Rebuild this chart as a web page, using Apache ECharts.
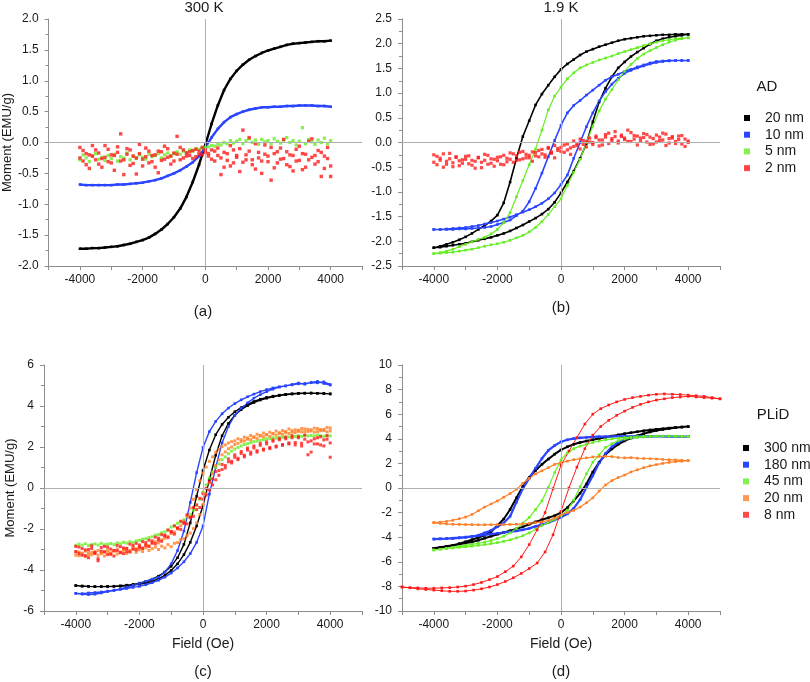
<!DOCTYPE html>
<html><head><meta charset="utf-8">
<script src="https://cdn.jsdelivr.net/npm/echarts@6/dist/echarts.min.js"></script>
<style>html,body{margin:0;padding:0;background:#fff}#c{width:810px;height:682px}</style>
</head><body><div id="c"></div>
<script>
// ---------- field sweeps (Oe) ----------
const F41 = [-4000,-3800,-3600,-3400,-3200,-3000,-2800,-2600,-2400,-2200,-2000,-1800,-1600,-1400,-1200,-1000,-800,-600,-400,-200,0,200,400,600,800,1000,1200,1400,1600,1800,2000,2200,2400,2600,2800,3000,3200,3400,3600,3800,4000];
const F81 = [-4000,-3900,-3800,-3700,-3600,-3500,-3400,-3300,-3200,-3100,-3000,-2900,-2800,-2700,-2600,-2500,-2400,-2300,-2200,-2100,-2000,-1900,-1800,-1700,-1600,-1500,-1400,-1300,-1200,-1100,-1000,-900,-800,-700,-600,-500,-400,-300,-200,-100,0,100,200,300,400,500,600,700,800,900,1000,1100,1200,1300,1400,1500,1600,1700,1800,1900,2000,2100,2200,2300,2400,2500,2600,2700,2800,2900,3000,3100,3200,3300,3400,3500,3600,3700,3800,3900,4000];
const F41D = [-5000,-4750,-4500,-4250,-4000,-3750,-3500,-3250,-3000,-2750,-2500,-2250,-2000,-1750,-1500,-1250,-1000,-750,-500,-250,0,250,500,750,1000,1250,1500,1750,2000,2250,2500,2750,3000,3250,3500,3750,4000,4250,4500,4750,5000];

// ---------- (a) AD, 300 K ----------
const a20 = [-1.72,-1.72,-1.71,-1.71,-1.70,-1.69,-1.68,-1.66,-1.64,-1.61,-1.58,-1.54,-1.48,-1.41,-1.32,-1.21,-1.07,-0.88,-0.64,-0.36,-0.04,0.30,0.60,0.85,1.03,1.16,1.26,1.34,1.40,1.45,1.49,1.52,1.55,1.58,1.60,1.61,1.62,1.63,1.64,1.64,1.65];
const a10 = [-0.68,-0.69,-0.69,-0.69,-0.69,-0.69,-0.68,-0.68,-0.67,-0.66,-0.65,-0.63,-0.61,-0.58,-0.54,-0.50,-0.45,-0.39,-0.32,-0.22,-0.08,0.08,0.22,0.33,0.41,0.46,0.50,0.53,0.55,0.57,0.57,0.58,0.58,0.59,0.59,0.60,0.60,0.60,0.59,0.59,0.58];
const a5 = [-0.28,-0.20,-0.25,-0.31,-0.22,-0.18,-0.27,-0.24,-0.29,-0.21,-0.26,-0.19,-0.30,-0.23,-0.25,-0.17,-0.28,-0.22,-0.26,-0.20,-0.24,-0.27,-0.19,-0.23,-0.21,-0.18,-0.25,-0.20,-0.17,-0.22,-0.18,-0.15,-0.19,-0.14,-0.16,-0.12,-0.14,-0.10,-0.11,-0.09,-0.08,-0.07,-0.05,-0.06,-0.03,-0.04,0.00,-0.02,0.03,-0.01,0.02,0.05,-0.02,0.03,0.06,0.00,0.04,-0.03,0.05,0.01,0.03,-0.02,0.06,0.02,-0.01,0.04,0.08,0.00,0.03,-0.04,0.02,0.24,-0.02,0.05,0.01,-0.03,0.04,0.00,0.07,-0.02,0.03];
const a2up = [-0.08,-0.30,-0.18,-0.42,-0.22,-0.12,-0.35,-0.26,-0.05,-0.31,-0.20,-0.45,-0.16,0.14,-0.28,-0.10,-0.37,-0.22,-0.51,-0.18,-0.27,-0.09,-0.33,-0.21,-0.40,-0.14,-0.29,-0.06,-0.24,-0.35,-0.17,0.10,-0.28,-0.12,-0.22,-0.15,-0.26,-0.11,-0.19,-0.08,-0.16,-0.22,-0.12,-0.30,-0.09,-0.25,-0.40,-0.18,-0.05,-0.33,-0.21,-0.47,0.20,-0.28,-0.14,-0.36,-0.02,-0.25,-0.50,-0.19,-0.31,-0.08,-0.41,-0.15,-0.27,0.05,-0.36,-0.20,-0.46,-0.11,-0.29,-0.18,-0.40,0.02,-0.24,-0.35,-0.13,-0.55,-0.22,-0.08,-0.38];
const a2dn = [-0.25,-0.13,-0.36,-0.20,-0.05,-0.28,-0.17,-0.40,-0.24,-0.11,-0.33,-0.21,-0.07,-0.30,-0.52,-0.19,-0.12,-0.34,-0.25,-0.03,-0.38,-0.23,-0.14,-0.31,-0.20,-0.49,-0.15,-0.27,-0.10,-0.22,-0.30,-0.19,-0.08,-0.25,-0.17,-0.21,-0.13,-0.23,-0.14,-0.20,-0.12,-0.18,-0.27,-0.14,-0.21,-0.52,-0.16,-0.29,-0.38,-0.12,-0.24,-0.10,-0.32,-0.20,0.08,-0.28,-0.43,-0.16,-0.30,-0.04,-0.22,-0.61,-0.18,-0.33,-0.09,-0.26,-0.15,-0.39,-0.21,-0.30,-0.06,-0.44,-0.19,-0.28,0.06,-0.21,-0.31,-0.16,-0.42,-0.26,-0.55];

// ---------- (b) AD, 1.9 K (upper = descending branch, lower = ascending branch) ----------
const b20upper = [-2.13,-2.10,-2.06,-2.02,-1.97,-1.91,-1.84,-1.76,-1.68,-1.59,-1.47,-1.22,-0.80,-0.32,0.12,0.44,0.76,0.98,1.16,1.33,1.48,1.59,1.68,1.77,1.84,1.89,1.94,1.98,2.02,2.06,2.09,2.11,2.13,2.15,2.16,2.17,2.18,2.18,2.19,2.19,2.19];
const b20lower = [-2.13,-2.12,-2.10,-2.08,-2.06,-2.04,-2.01,-1.98,-1.95,-1.92,-1.88,-1.84,-1.79,-1.73,-1.67,-1.60,-1.53,-1.45,-1.35,-1.21,-1.02,-0.80,-0.58,-0.32,-0.02,0.42,0.82,1.10,1.33,1.51,1.63,1.74,1.83,1.91,1.99,2.06,2.10,2.13,2.15,2.17,2.19];
const b10upper = [-1.76,-1.76,-1.76,-1.76,-1.75,-1.75,-1.74,-1.73,-1.72,-1.70,-1.66,-1.62,-1.57,-1.48,-1.39,-1.20,-0.93,-0.62,-0.29,0.04,0.35,0.60,0.75,0.85,0.96,1.06,1.16,1.26,1.33,1.38,1.44,1.48,1.53,1.57,1.61,1.64,1.65,1.66,1.66,1.66,1.66];
const b10lower = [-1.76,-1.76,-1.75,-1.74,-1.73,-1.72,-1.70,-1.68,-1.65,-1.62,-1.59,-1.55,-1.51,-1.46,-1.41,-1.36,-1.30,-1.23,-1.14,-1.02,-0.85,-0.66,-0.32,0.00,0.32,0.60,0.84,1.03,1.18,1.30,1.40,1.46,1.51,1.55,1.59,1.62,1.64,1.65,1.66,1.66,1.66];
const b5upper = [-2.25,-2.23,-2.20,-2.16,-2.11,-2.06,-2.01,-1.96,-1.92,-1.85,-1.76,-1.62,-1.42,-1.10,-0.77,-0.45,-0.13,0.25,0.66,0.94,1.12,1.29,1.41,1.51,1.57,1.62,1.67,1.71,1.75,1.80,1.84,1.88,1.92,1.96,2.00,2.03,2.06,2.08,2.10,2.11,2.12];
const b5lower = [-2.25,-2.24,-2.23,-2.22,-2.20,-2.18,-2.16,-2.13,-2.10,-2.07,-2.05,-2.02,-1.98,-1.93,-1.88,-1.81,-1.72,-1.60,-1.46,-1.30,-1.14,-0.87,-0.60,-0.34,0.00,0.33,0.64,0.88,1.07,1.27,1.44,1.58,1.70,1.79,1.86,1.92,1.98,2.03,2.07,2.10,2.12];
const b2up = [-0.25,-0.45,-0.32,-0.50,-0.38,-0.22,-0.41,-0.30,-0.47,-0.35,-0.28,-0.43,-0.36,-0.52,-0.31,-0.40,-0.24,-0.44,-0.33,-0.48,-0.37,-0.29,-0.45,-0.32,-0.21,-0.40,-0.27,-0.35,-0.18,-0.31,-0.26,-0.38,-0.20,-0.29,-0.14,-0.25,-0.10,-0.22,-0.31,-0.12,-0.18,-0.05,-0.15,-0.24,-0.08,-0.02,-0.13,0.04,-0.09,0.01,-0.04,0.10,-0.07,0.05,0.16,-0.02,0.08,0.22,0.03,0.12,0.06,0.25,0.02,0.14,-0.05,0.09,0.18,0.01,0.11,-0.03,0.15,0.04,0.19,-0.06,0.08,0.12,-0.02,0.06,0.14,-0.08,0.03];
const b2dn = [-0.40,-0.28,-0.36,-0.23,-0.44,-0.33,-0.49,-0.29,-0.37,-0.42,-0.34,-0.27,-0.46,-0.38,-0.30,-0.51,-0.36,-0.26,-0.42,-0.34,-0.30,-0.44,-0.26,-0.39,-0.34,-0.23,-0.36,-0.20,-0.33,-0.24,-0.31,-0.19,-0.27,-0.16,-0.23,-0.30,-0.12,-0.19,-0.06,-0.16,-0.10,-0.20,-0.03,-0.11,0.03,-0.06,0.07,-0.04,0.02,0.09,0.00,0.13,0.05,-0.05,0.11,0.19,0.04,0.12,-0.01,0.15,0.09,0.02,0.20,0.07,0.13,0.03,0.10,0.16,-0.04,0.08,0.01,0.11,0.05,0.17,-0.01,0.09,0.02,0.13,-0.03,0.07,0.00];

// ---------- (c) PLiD, 300 K ----------
const c300upper = [-4.76,-4.78,-4.80,-4.81,-4.81,-4.80,-4.79,-4.77,-4.74,-4.70,-4.64,-4.56,-4.45,-4.30,-4.10,-3.82,-3.40,-2.75,-1.70,-0.40,0.85,1.85,2.60,3.10,3.45,3.72,3.92,4.08,4.22,4.33,4.42,4.48,4.53,4.57,4.60,4.62,4.63,4.63,4.62,4.61,4.59];
const c300lower = [-4.76,-4.79,-4.80,-4.81,-4.81,-4.81,-4.80,-4.79,-4.77,-4.74,-4.70,-4.64,-4.55,-4.43,-4.26,-4.02,-3.70,-3.25,-2.65,-1.85,-0.85,0.40,1.60,2.55,3.15,3.55,3.82,4.02,4.17,4.29,4.38,4.45,4.51,4.55,4.58,4.61,4.62,4.63,4.62,4.61,4.59];
const c180upper = [-5.14,-5.15,-5.12,-5.10,-5.07,-5.03,-4.98,-4.92,-4.84,-4.75,-4.65,-4.55,-4.45,-4.35,-4.10,-3.70,-3.05,-2.10,-0.70,0.75,1.98,2.75,3.25,3.62,3.90,4.12,4.30,4.45,4.58,4.70,4.80,4.88,4.94,4.98,5.05,5.12,5.06,5.15,5.20,5.10,5.02];
const c180lower = [-5.14,-5.18,-5.20,-5.18,-5.12,-5.05,-5.00,-4.95,-4.90,-4.85,-4.80,-4.72,-4.62,-4.50,-4.35,-4.15,-3.90,-3.60,-3.20,-2.65,-1.85,-0.30,1.00,2.20,3.00,3.55,3.88,4.15,4.38,4.55,4.70,4.82,4.92,4.98,5.03,5.08,5.10,5.14,5.13,5.18,5.05];
const c45 = [-2.80,-2.74,-2.79,-2.72,-2.81,-2.76,-2.73,-2.78,-2.70,-2.77,-2.74,-2.71,-2.76,-2.68,-2.72,-2.65,-2.69,-2.62,-2.66,-2.58,-2.55,-2.50,-2.47,-2.42,-2.38,-2.30,-2.27,-2.18,-2.14,-2.05,-1.90,-1.84,-1.72,-1.65,-1.55,-1.40,-1.28,-1.08,-0.85,-0.55,-0.20,0.15,0.48,0.78,1.00,1.18,1.38,1.52,1.68,1.80,1.90,1.98,2.05,2.12,2.16,2.22,2.26,2.29,2.33,2.36,2.40,2.41,2.45,2.43,2.48,2.47,2.50,2.49,2.53,2.51,2.55,2.52,2.57,2.54,2.56,2.53,2.58,2.55,2.52,2.56,2.54];
const c20upper = [-3.28,-3.12,-3.22,-3.08,-3.25,-3.14,-3.20,-3.05,-3.18,-3.10,-3.02,-3.16,-3.06,-2.98,-3.12,-3.00,-2.94,-3.05,-2.88,-2.96,-2.86,-2.92,-2.78,-2.82,-2.70,-2.62,-2.68,-2.52,-2.45,-2.36,-2.22,-2.15,-2.00,-1.84,-1.62,-1.38,-0.98,-0.55,-0.08,0.35,0.72,1.02,1.30,1.52,1.74,1.88,2.02,2.10,2.20,2.26,2.30,2.40,2.36,2.48,2.44,2.56,2.50,2.62,2.55,2.68,2.60,2.72,2.64,2.78,2.66,2.80,2.70,2.88,2.72,2.84,2.76,2.90,2.74,2.86,2.78,2.92,2.75,2.85,2.80,2.95,2.78];
const c20lower = [-3.12,-3.30,-3.18,-3.35,-3.15,-3.26,-3.10,-3.28,-3.20,-3.32,-3.14,-3.24,-3.08,-3.22,-3.16,-3.04,-3.20,-3.10,-2.98,-3.14,-3.02,-3.10,-2.92,-3.05,-2.96,-2.88,-3.00,-2.84,-2.92,-2.76,-2.86,-2.70,-2.66,-2.52,-2.48,-2.32,-2.20,-1.98,-1.70,-1.30,-0.80,-0.28,0.25,0.68,1.10,1.38,1.62,1.76,1.92,2.00,2.12,2.18,2.26,2.30,2.38,2.36,2.46,2.42,2.55,2.50,2.60,2.52,2.66,2.58,2.70,2.62,2.76,2.66,2.80,2.70,2.82,2.74,2.88,2.76,2.84,2.72,2.90,2.80,2.86,2.74,2.92];
const c8upper = [-2.85,-3.20,-2.95,-3.30,-3.00,-2.82,-3.18,-3.45,-2.90,-3.12,-2.88,-3.22,-3.05,-2.80,-3.15,-2.92,-3.10,-2.74,-2.98,-2.70,-2.90,-2.62,-2.80,-2.55,-2.68,-2.40,-2.55,-2.28,-2.35,-2.05,-2.12,-1.85,-1.95,-1.62,-1.70,-1.30,-1.42,-0.95,-0.82,-0.50,-0.28,-0.02,0.30,0.45,0.80,0.85,1.15,1.10,1.42,1.30,1.62,1.45,1.78,1.60,1.95,1.75,2.05,1.82,2.18,1.90,2.25,1.98,2.35,2.05,2.42,2.12,2.48,2.20,2.55,2.10,2.45,2.18,2.58,2.25,1.75,2.40,2.15,2.50,2.05,2.38,1.50];
const c8lower = [-3.10,-2.88,-3.28,-3.02,-3.40,-2.95,-3.15,-3.55,-3.08,-2.85,-3.25,-2.98,-3.32,-3.06,-2.86,-3.20,-2.95,-3.12,-2.80,-3.02,-2.78,-2.95,-2.66,-2.85,-2.58,-2.72,-2.45,-2.60,-2.30,-2.42,-2.15,-2.25,-1.95,-2.02,-1.72,-1.75,-1.45,-1.38,-1.05,-0.95,-0.55,-0.35,-0.10,0.15,0.40,0.62,0.90,0.98,1.28,1.22,1.50,1.38,1.68,1.52,1.85,1.65,1.95,1.75,2.08,1.85,2.15,1.92,2.28,2.00,2.35,2.08,2.40,2.15,2.45,2.22,2.50,2.05,2.38,1.62,2.30,2.15,2.45,2.10,2.35,2.55,2.20];

// ---------- (d) PLiD, 1.9 K ----------
const d300upper = [-4.90,-4.84,-4.76,-4.66,-4.52,-4.37,-4.20,-4.02,-3.85,-3.55,-3.05,-2.52,-1.75,-0.80,0.12,0.86,1.42,1.92,2.35,2.75,3.10,3.35,3.55,3.70,3.82,3.92,4.02,4.12,4.22,4.32,4.42,4.50,4.58,4.65,4.72,4.77,4.82,4.87,4.92,4.96,4.99];
const d300lower = [-4.90,-4.82,-4.74,-4.66,-4.57,-4.48,-4.39,-4.25,-4.08,-3.92,-3.76,-3.62,-3.47,-3.32,-3.16,-2.95,-2.75,-2.58,-2.42,-2.25,-2.00,-1.60,-1.05,-0.43,0.32,1.30,2.10,2.72,3.18,3.55,3.83,4.05,4.25,4.42,4.56,4.67,4.76,4.84,4.90,4.95,4.99];
const d180upper = [-4.15,-4.14,-4.12,-4.10,-4.06,-4.01,-3.94,-3.84,-3.65,-3.45,-3.15,-2.85,-2.30,-1.15,-0.05,0.80,1.60,2.40,3.05,3.45,3.75,3.92,4.02,4.08,4.12,4.15,4.17,4.18,4.19,4.20,4.20,4.20,4.20,4.20,4.20,4.20,4.20,4.19,4.19,4.18,4.17];
const d180lower = [-4.15,-4.13,-4.11,-4.08,-4.04,-3.99,-3.94,-3.88,-3.82,-3.75,-3.68,-3.62,-3.56,-3.49,-3.40,-3.28,-3.12,-2.98,-2.82,-2.60,-2.38,-2.10,-1.65,-0.95,0.05,1.00,2.05,2.80,3.35,3.72,3.98,4.10,4.15,4.17,4.18,4.19,4.19,4.18,4.18,4.17,4.17];
const d45upper = [-5.04,-4.98,-4.90,-4.82,-4.74,-4.66,-4.58,-4.50,-4.40,-4.28,-4.12,-3.92,-3.65,-3.30,-2.85,-2.40,-1.75,-1.05,0.05,1.25,2.30,2.85,3.20,3.40,3.55,3.70,3.82,3.92,4.00,4.06,4.10,4.14,4.17,4.19,4.21,4.22,4.22,4.22,4.21,4.20,4.18];
const d45lower = [-5.04,-4.98,-4.93,-4.88,-4.83,-4.78,-4.72,-4.66,-4.60,-4.52,-4.44,-4.34,-4.22,-4.06,-3.88,-3.65,-3.35,-3.05,-2.80,-2.55,-2.25,-1.80,-1.00,0.10,1.15,2.10,2.70,3.30,3.60,3.85,3.98,4.06,4.11,4.15,4.18,4.20,4.21,4.21,4.21,4.20,4.18];
const d20upper = [-2.82,-2.78,-2.72,-2.62,-2.50,-2.36,-2.15,-1.85,-1.55,-1.30,-1.05,-0.75,-0.45,-0.10,0.38,0.78,1.15,1.40,1.65,1.92,2.05,2.18,2.30,2.38,2.45,2.52,2.56,2.58,2.55,2.48,2.45,2.47,2.42,2.40,2.38,2.36,2.32,2.30,2.28,2.25,2.22];
const d20lower = [-2.82,-2.88,-2.92,-2.95,-2.96,-2.97,-2.98,-2.99,-2.99,-2.98,-2.98,-2.97,-2.96,-2.95,-2.92,-2.88,-2.82,-2.75,-2.65,-2.45,-2.20,-2.00,-1.82,-1.55,-1.20,-0.80,-0.25,0.25,0.60,0.85,1.05,1.30,1.48,1.65,1.80,1.90,2.00,2.08,2.14,2.18,2.22];
const d8upper = [-8.05,-8.10,-8.12,-8.15,-8.15,-8.12,-8.10,-8.05,-7.98,-7.85,-7.68,-7.45,-7.20,-6.80,-6.35,-5.60,-4.60,-3.40,-2.00,-0.05,1.85,3.00,4.10,5.20,6.00,6.45,6.75,7.00,7.20,7.35,7.45,7.55,7.62,7.65,7.62,7.60,7.55,7.50,7.45,7.35,7.25];
const d8lower = [-8.05,-8.12,-8.20,-8.25,-8.30,-8.35,-8.40,-8.40,-8.38,-8.30,-8.20,-8.05,-7.85,-7.60,-7.30,-6.95,-6.55,-6.10,-5.20,-3.80,-1.90,0.00,1.70,3.20,4.30,5.00,5.50,5.90,6.25,6.55,6.80,7.00,7.15,7.25,7.35,7.40,7.45,7.40,7.35,7.30,7.25];

// ---------- labels ----------
const adNames = ['20 nm','10 nm','5 nm','2 nm'];
const plidNames = ['300 nm','180 nm','45 nm','20 nm','8 nm'];
const adColors = ['#000000','#2a45ff','#66ee22','#ff1a1a'];
const plidColors = ['#000000','#2a45ff','#66ee22','#ff7f27','#ff1a1a'];

// ---------- build ----------
function pairs(xs, ys){ return xs.map((x,i)=>[x, ys[i]]); }
function loop(xs, upper, lower){ return pairs(xs, upper).reverse().concat(pairs(xs, lower)); }

const FONT = 'Liberation Sans, Arial, sans-serif';
const AX = '#8c8c8c';
const TXT = '#1a1a1a';
const grids = [
  {left:44, top:19, width:318, height:247},
  {left:402, top:19, width:318, height:247},
  {left:44, top:365, width:318, height:246},
  {left:402, top:365, width:318, height:246}
];
function xAx(i, minV, maxV, named){
  return {type:'value', gridIndex:i, min:minV, max:maxV, interval:1000,
    axisLine:{show:true, onZero:false, lineStyle:{color:AX}},
    axisTick:{show:true, length:4, lineStyle:{color:AX}},
    splitLine:{show:false},
    axisLabel:{color:TXT, fontSize:12, fontFamily:FONT, margin:8,
      formatter:v => (v % 2000 === 0 && Math.abs(v) < 5000) ? String(v) : ''},
    name: named ? 'Field (Oe)' : '', nameLocation:'middle', nameGap:26,
    nameTextStyle:{color:TXT, fontSize:14, fontFamily:FONT}};
}
function yAx(i, minV, maxV, iv, dec, named){
  return {type:'value', gridIndex:i, min:minV, max:maxV, interval:iv,
    axisLine:{show:true, onZero:false, lineStyle:{color:AX}},
    axisTick:{show:true, length:4, lineStyle:{color:AX}},
    minorTick:{show:true, splitNumber:2, length:3, lineStyle:{color:AX}},
    splitLine:{show:false},
    axisLabel:{color:TXT, fontSize:12, fontFamily:FONT, margin:10,
      formatter:v => v.toFixed(dec)},
    name: named ? 'Moment (EMU/g)' : '', nameLocation:'middle', nameGap:27,
    nameTextStyle:{color:TXT, fontSize:13, fontFamily:FONT}};
}
function zeroLines(i){
  return {type:'line', xAxisIndex:i, yAxisIndex:i, data:[], silent:true, z:1,
    markLine:{silent:true, symbol:'none', label:{show:false}, animation:false,
      lineStyle:{color:'#b0b0b0', width:1, type:'solid'},
      data:[{xAxis:0},{yAxis:0}]}};
}
function lineS(name, i, color, data, w){
  return {name, type:'line', xAxisIndex:i, yAxisIndex:i, data, z:3,
    symbol:'rect', symbolSize:2.6, showSymbol:true, showAllSymbol:true,
    itemStyle:{color}, lineStyle:{color, width:w}, emphasis:{disabled:true}};
}
function dotS(name, i, color, data, sz){
  return {name, type:'scatter', xAxisIndex:i, yAxisIndex:i, data, z:4,
    symbol:'rect', symbolSize:sz || 3, itemStyle:{color}, emphasis:{disabled:true}};
}

const series = [
  zeroLines(0), zeroLines(1), zeroLines(2), zeroLines(3),
  // (a)
  lineS('AD '+adNames[0], 0, adColors[0], pairs(F41, a20), 2.4),
  lineS('AD '+adNames[1], 0, adColors[1], pairs(F41, a10), 2.4),
  dotS('AD '+adNames[2], 0, adColors[2], pairs(F81, a5), 3.2),
  dotS('AD '+adNames[3], 0, adColors[3], pairs(F81, a2up).concat(pairs(F81, a2dn)), 3.4),
  // (b)
  lineS('AD '+adNames[0], 1, adColors[0], loop(F41, b20upper, b20lower), 1.6),
  lineS('AD '+adNames[1], 1, adColors[1], loop(F41, b10upper, b10lower), 1.6),
  lineS('AD '+adNames[2], 1, adColors[2], loop(F41, b5upper, b5lower), 1.2),
  dotS('AD '+adNames[3], 1, adColors[3], pairs(F81, b2up).concat(pairs(F81, b2dn)), 3.2),
  // (c)
  lineS('PLiD '+plidNames[0], 2, plidColors[0], loop(F41, c300upper, c300lower), 1.4),
  lineS('PLiD '+plidNames[1], 2, plidColors[1], loop(F41, c180upper, c180lower), 1.4),
  dotS('PLiD '+plidNames[2], 2, plidColors[2], pairs(F81, c45)),
  dotS('PLiD '+plidNames[3], 2, plidColors[3], pairs(F81, c20upper).concat(pairs(F81, c20lower))),
  dotS('PLiD '+plidNames[4], 2, plidColors[4], pairs(F81, c8upper).concat(pairs(F81, c8lower))),
  // (d)
  lineS('PLiD '+plidNames[0], 3, plidColors[0], loop(F41, d300upper, d300lower), 2),
  lineS('PLiD '+plidNames[1], 3, plidColors[1], loop(F41, d180upper, d180lower), 2.2),
  lineS('PLiD '+plidNames[2], 3, plidColors[2], loop(F41, d45upper, d45lower), 1.2),
  lineS('PLiD '+plidNames[3], 3, plidColors[3], loop(F41, d20upper, d20lower), 1.2),
  lineS('PLiD '+plidNames[4], 3, plidColors[4], loop(F41D, d8upper, d8lower), 1.0)
];

const legendBase = {orient:'vertical', icon:'rect', itemWidth:6, itemHeight:6, itemGap:2.7, padding:0,
  selectedMode:false, formatter: n => n.replace(/^(AD|PLiD) /,''),
  textStyle:{color:TXT, fontSize:14, lineHeight:14, fontFamily:FONT, padding:[0,0,0,10]}};

function label(text, x, yCenter){
  return {text, left:x, top:yCenter-8, padding:0, textAlign:'center',
    textStyle:{fontSize:15, fontWeight:'normal', color:TXT, fontFamily:FONT}};
}

const option = {
  backgroundColor:'#ffffff',
  animation:false,
  grid: grids,
  xAxis: [xAx(0,-5000,5000,false), xAx(1,-5000,5000,false), xAx(2,-5000,5000,true), xAx(3,-5000,5000,true)],
  yAxis: [yAx(0,-2,2,0.5,1,true), yAx(1,-2.5,2.5,0.5,1,false), yAx(2,-6,6,2,0,true), yAx(3,-10,10,2,0,false)],
  legend: [
    Object.assign({}, legendBase, {left:744, top:111, data: adNames.map(n=>'AD '+n)}),
    Object.assign({}, legendBase, {left:743, top:441, data: plidNames.map(n=>'PLiD '+n)})
  ],
  title: [
    label('300 K', 204, 8), label('1.9 K', 561, 8),
    label('AD', 767, 87), label('PLiD', 773, 415),
    label('(a)', 203, 312), label('(b)', 561, 308),
    label('(c)', 203, 672), label('(d)', 561, 672)
  ],
  series
};
const chart = echarts.init(document.getElementById('c'), null, {renderer:'canvas'});
chart.setOption(option);
</script></body></html>
